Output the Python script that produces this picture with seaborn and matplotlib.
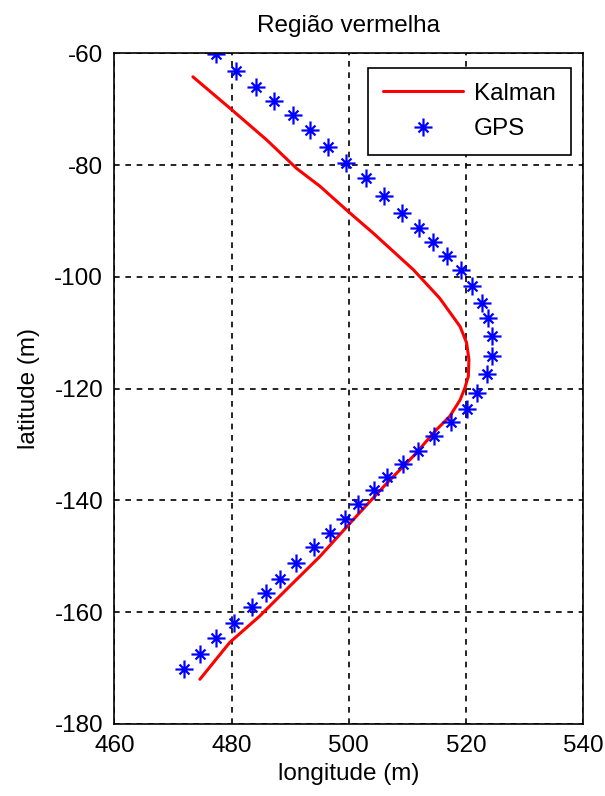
import numpy as np
import pandas as pd
import matplotlib
matplotlib.use("Agg")
import matplotlib.pyplot as plt
from matplotlib.path import Path
import seaborn as sns

# GPS fixes
gps_lon = [477.3, 480.8, 484.2, 487.3, 490.4, 493.4, 496.5, 499.5, 503.0, 506.0,
           509.1, 511.9, 514.3, 516.7, 519.1, 521.1, 522.8, 523.8, 524.5, 524.5,
           523.5, 521.8, 520.1, 517.4, 514.6, 511.8, 509.2, 506.6, 504.3, 501.6,
           499.3, 496.8, 494.1, 491.0, 488.3, 485.9, 483.5, 480.4, 477.3, 474.6,
           471.9]
gps_lat = [-60.1, -63.1, -66.0, -68.5, -71.0, -73.7, -76.7, -79.6, -82.3, -85.5,
           -88.5, -91.3, -93.8, -96.2, -98.7, -101.7, -104.6, -107.3, -110.5, -114.1,
           -117.4, -120.7, -123.6, -126.0, -128.5, -131.1, -133.5, -135.8, -138.2, -140.7,
           -143.3, -145.8, -148.3, -151.2, -154.0, -156.5, -159.1, -161.9, -164.7, -167.4,
           -170.1]

# Kalman estimate
kal_lon = [473.4, 479.7, 486.0, 491.1, 495.1, 499.9, 504.2, 511.0, 515.5, 519.0,
           520.1, 520.5, 520.4, 519.8, 519.0, 517.2, 515.0, 511.0, 506.5, 500.8,
           495.1, 489.4, 484.8, 479.7, 474.6]
kal_lat = [-64.2, -69.8, -75.5, -80.6, -83.8, -88.3, -92.2, -98.7, -103.8, -108.9,
           -111.8, -114.8, -117.8, -119.9, -122.0, -125.0, -127.3, -132.1, -136.9, -143.4,
           -150.0, -155.9, -160.7, -165.4, -172.0]

xticks = [460, 480, 500, 520, 540]
yticks = [-60, -80, -100, -120, -140, -160, -180]

sns.set_style("white")
plt.rcParams["font.family"] = ["Liberation Sans", "DejaVu Sans"]
plt.rcParams["axes.unicode_minus"] = False
plt.rcParams["text.color"] = "black"
plt.rcParams["axes.labelcolor"] = "black"
fs = 17.5

# MATLAB style asterisk: plus with shorter diagonals
d = 0.55
verts = [(-1, 0), (1, 0), (0, -1), (0, 1), (-d, -d), (d, d), (-d, d), (d, -d)]
codes = [Path.MOVETO, Path.LINETO] * 4
star = Path(verts, codes)

kal = pd.DataFrame({"lon": kal_lon, "lat": kal_lat})
gps = pd.DataFrame({"lon": gps_lon, "lat": gps_lat})

fig = plt.figure(figsize=(6.05, 7.96), dpi=100)
ax = fig.add_axes([0.189, 0.0905, 0.775, 0.8425])

sns.lineplot(data=kal, x="lon", y="lat", sort=False, estimator=None,
             color="red", linewidth=2.2, label="Kalman", ax=ax)
sns.lineplot(data=gps, x="lon", y="lat", sort=False, estimator=None,
             color="blue", linestyle="", marker=star, markersize=13,
             markeredgewidth=1.6, markeredgecolor="blue", label="GPS", ax=ax)

ax.set_xlim(460, 540)
ax.set_ylim(-180, -60)
ax.set_xticks(xticks)
ax.set_yticks(yticks)
ax.grid(True, color="black", linestyle=(0, (3.4, 3.4)), linewidth=1.2)
ax.tick_params(direction="in", length=5, colors="black", labelsize=fs)
ax.tick_params(axis="x", pad=8)
ax.tick_params(axis="y", pad=8)
for s in ax.spines.values():
    s.set_color("black")
    s.set_linewidth(1.2)

ax.set_title("Região vermelha", fontsize=fs, pad=15)
ax.set_xlabel("longitude (m)", fontsize=fs, labelpad=4)
ax.set_ylabel("latitude (m)", fontsize=fs, labelpad=10)

leg = ax.legend(loc="upper right", bbox_to_anchor=(0.973, 0.978),
                borderaxespad=0, fancybox=False, edgecolor="black",
                framealpha=1, fontsize=fs, handlelength=3.3,
                handletextpad=0.45, labelspacing=0.55, borderpad=0.6)
leg.get_frame().set_linewidth(1.2)

fig.savefig("out.png", dpi=100)
